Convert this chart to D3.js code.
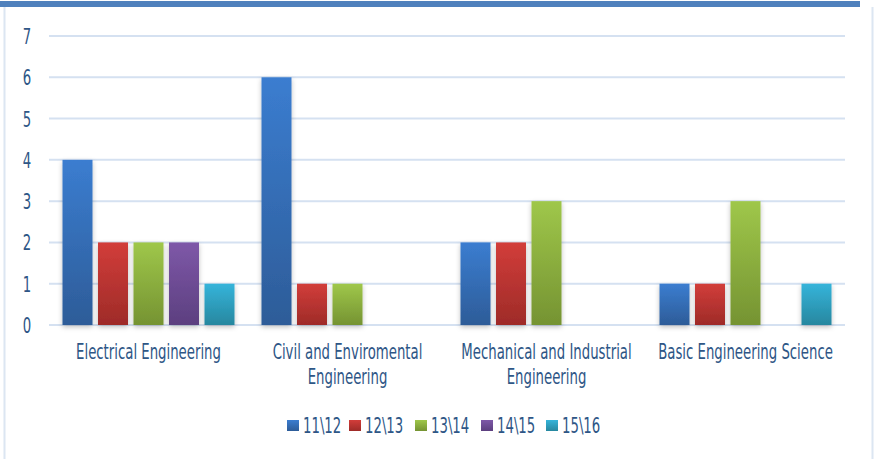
<!DOCTYPE html>
<html>
<head>
<meta charset="utf-8">
<script src="https://cdn.jsdelivr.net/npm/d3@7"></script>
<style>
  html, body { margin: 0; padding: 0; background: #fff; }
  svg { display: block; }
  text { font-family: "DejaVu Sans Condensed", "DejaVu Sans", sans-serif; fill: #2e5686; }
</style>
</head>
<body>
<svg id="chart" width="876" height="459"></svg>
<script>
const categories = [
  ["Electrical Engineering"],
  ["Civil and Enviromental", "Engineering"],
  ["Mechanical and Industrial", "Engineering"],
  ["Basic Engineering Science"]
];
const seriesNames = ["11\\12", "12\\13", "13\\14", "14\\15", "15\\16"];
const s1112 = [4, 6, 2, 1];
const s1213 = [2, 1, 2, 1];
const s1314 = [2, 1, 3, 3];
const s1415 = [2, 0, 0, 0];
const s1516 = [1, 0, 0, 1];
const seriesValues = [s1112, s1213, s1314, s1415, s1516];
const yTicks = [0, 1, 2, 3, 4, 5, 6, 7];
const colorsTop = ["#3b7dd0", "#d23d3a", "#9fc74a", "#7e58a8", "#35b4da"];
const colorsBot = ["#2d5c98", "#9e2b28", "#759332", "#5c3f7f", "#27879f"];

const FS = 22;
const svg = d3.select("#chart");

// measure a horizontal compression so the text mimics a condensed face
const probe = svg.append("text").attr("font-size", FS).text("Electrical Engineering");
const SX = 145 / probe.node().getComputedTextLength();
probe.remove();

function label(parent, x, y, str, anchor) {
  const g = parent.append("g").attr("transform", `translate(${x},${y}) scale(${SX},1)`);
  g.append("text").attr("font-size", FS).attr("text-anchor", anchor || "middle").text(str);
  return g;
}

const defs = svg.append("defs");
colorsTop.forEach((c, i) => {
  const g = defs.append("linearGradient").attr("id", "g" + i)
    .attr("x1", 0).attr("y1", 0).attr("x2", 0).attr("y2", 1);
  g.append("stop").attr("offset", "0%").attr("stop-color", c);
  g.append("stop").attr("offset", "100%").attr("stop-color", colorsBot[i]);
});
const f = defs.append("filter").attr("id", "sh").attr("x", "-30%").attr("y", "-10%").attr("width", "160%").attr("height", "125%");
f.append("feDropShadow").attr("dx", 0).attr("dy", 2).attr("stdDeviation", 2.5).attr("flood-color", "#000").attr("flood-opacity", 0.25);

// frame
svg.append("rect").attr("x", 0).attr("y", 1).attr("width", 860).attr("height", 6).attr("fill", "#4f81bd");
svg.append("line").attr("x1", 4.5).attr("x2", 4.5).attr("y1", 7).attr("y2", 459).attr("stroke", "#dce6f2").attr("stroke-width", 2);
svg.append("line").attr("x1", 872.5).attr("x2", 872.5).attr("y1", 7).attr("y2", 459).attr("stroke", "#dce6f2").attr("stroke-width", 2);

const x0 = d3.scaleBand().domain(d3.range(categories.length)).range([49, 845]);
const bw = x0.bandwidth();
const x1 = d3.scaleBand().domain(d3.range(seriesNames.length))
  .range([bw / 2 - 88.75, bw / 2 + 88.75]).paddingInner(0.155).paddingOuter(0.0775);
const y = d3.scaleLinear().domain([0, 7]).range([325, 36]);

// gridlines
svg.append("g").selectAll("line").data(yTicks).join("line")
  .attr("x1", 49).attr("x2", 845)
  .attr("y1", d => y(d)).attr("y2", d => y(d))
  .attr("stroke", "#d5e1f1").attr("stroke-width", 2);

// y axis labels (positions from the d3 scale)
const yAxisG = svg.append("g");
yTicks.forEach(t => label(yAxisG, 27, y(t) + 8, d3.format("d")(t)));

// bars
const groups = svg.append("g").selectAll("g").data(categories).join("g")
  .attr("transform", (d, i) => `translate(${x0(i)},0)`);
groups.selectAll("rect").data((d, ci) => seriesValues.map((s, si) => ({ si, v: s[ci] })).filter(e => e.v > 0))
  .join("rect")
  .attr("x", e => x1(e.si)).attr("width", x1.bandwidth())
  .attr("y", e => y(e.v)).attr("height", e => y(0) - y(e.v))
  .attr("fill", e => `url(#g${e.si})`)
  .attr("filter", "url(#sh)");

// x labels
groups.each(function(lines) {
  const sel = d3.select(this);
  lines.forEach((l, k) => label(sel, bw / 2, 359 + k * 25, l));
});

// legend
const legX = [287, 349, 415, 481, 546];
const leg = svg.append("g").selectAll("g").data(seriesNames).join("g")
  .attr("transform", (d, i) => `translate(${legX[i]},420)`);
leg.append("rect").attr("width", 12).attr("height", 11).attr("fill", (d, i) => `url(#g${i})`);
leg.each(function(d) { label(d3.select(this), 16, 13, d, "start"); });
</script>
</body>
</html>
